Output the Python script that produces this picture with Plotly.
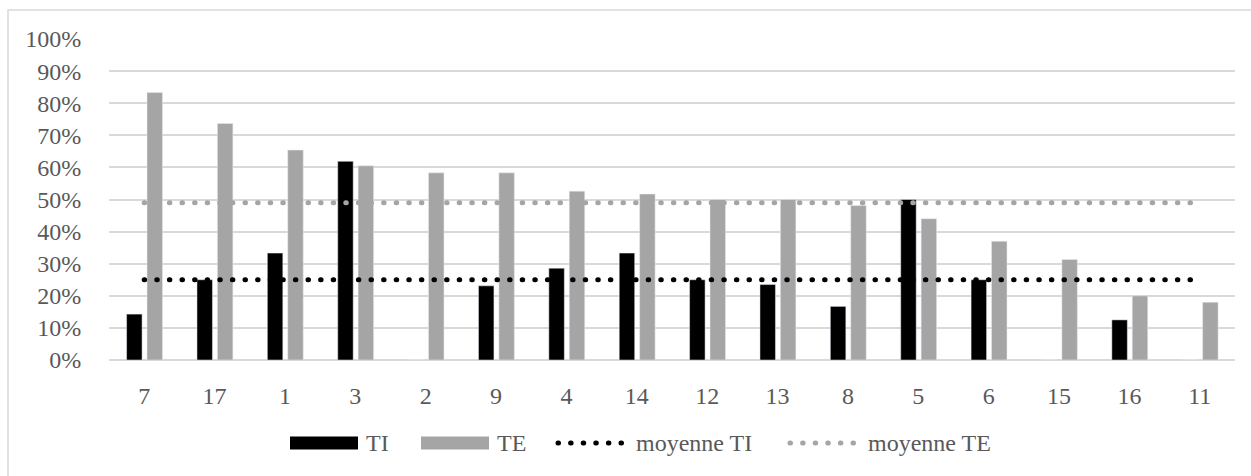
import plotly.graph_objects as go

# ---------------- data ----------------
categories = ["7", "17", "1", "3", "2", "9", "4", "14", "12", "13", "8", "5", "6", "15", "16", "11"]
ti_values = [0.143, 0.25, 0.333, 0.619, 0.0, 0.231, 0.286, 0.333, 0.25, 0.235, 0.167, 0.50, 0.25, 0.0, 0.125, 0.0]
te_values = [0.833, 0.737, 0.654, 0.605, 0.583, 0.583, 0.526, 0.517, 0.50, 0.50, 0.481, 0.44, 0.37, 0.313, 0.20, 0.18]
mean_ti = 0.25
mean_te = 0.49
y_tick_vals = [i / 10 for i in range(11)]
y_tick_text = [f"{i * 10}%" for i in range(11)]
legend_names = ["TI", "TE", "moyenne TI", "moyenne TE"]

# ---------------- style ----------------
W, H = 1251, 476
ML, MR, MT, MB = 109, 16, 39, 116
PW, PH = W - ML - MR, H - MT - MB
FONT = "Liberation Serif"
TXT = "#595959"
GRID = "#d9d9d9"
BLACK = "#000000"
GRAY = "#a5a5a5"
DOT = "0.5px,12.1px"


def px_x(px):
    return (px - ML) / PW


def px_y(py):
    return (H - MB - py) / PH


fig = go.Figure()
fig.add_trace(go.Bar(x=categories, y=ti_values, name=legend_names[0], marker_color=BLACK,
                     width=0.22, offset=-0.25, showlegend=False))
fig.add_trace(go.Bar(x=categories, y=te_values, name=legend_names[1], marker_color=GRAY,
                     width=0.22, offset=0.04, showlegend=False))
fig.add_trace(go.Scatter(x=[categories[0], categories[-1]], y=[mean_ti, mean_ti], mode="lines",
                         name=legend_names[2], line=dict(color=BLACK, width=5, dash=DOT), showlegend=False))
fig.add_trace(go.Scatter(x=[categories[0], categories[-1]], y=[mean_te, mean_te], mode="lines",
                         name=legend_names[3], line=dict(color=GRAY, width=5, dash=DOT), showlegend=False))

shapes = []
annotations = []
# outer chart border
shapes.append(dict(type="rect", xref="paper", yref="paper", x0=px_x(8), x1=px_x(1260),
                   y0=px_y(490), y1=px_y(10), line=dict(color=GRID, width=1.5), fillcolor="rgba(0,0,0,0)",
                   layer="below"))

# custom legend (Excel style)
ly = px_y(443)
shapes.append(dict(type="rect", xref="paper", yref="paper", x0=px_x(290), x1=px_x(358),
                   y0=px_y(449.5), y1=px_y(436.5), line=dict(width=0), fillcolor=BLACK))
annotations.append(dict(text=legend_names[0], x=px_x(364), y=ly, xref="paper", yref="paper",
                        xanchor="left", yanchor="middle", showarrow=False))
shapes.append(dict(type="rect", xref="paper", yref="paper", x0=px_x(421), x1=px_x(489),
                   y0=px_y(449.5), y1=px_y(436.5), line=dict(width=0), fillcolor=GRAY))
annotations.append(dict(text=legend_names[1], x=px_x(495), y=ly, xref="paper", yref="paper",
                        xanchor="left", yanchor="middle", showarrow=False))
shapes.append(dict(type="line", xref="paper", yref="paper", x0=px_x(558), x1=px_x(622),
                   y0=ly, y1=ly, line=dict(color=BLACK, width=5, dash=DOT)))
annotations.append(dict(text=legend_names[2], x=px_x(634), y=ly, xref="paper", yref="paper",
                        xanchor="left", yanchor="middle", showarrow=False))
shapes.append(dict(type="line", xref="paper", yref="paper", x0=px_x(790), x1=px_x(854),
                   y0=ly, y1=ly, line=dict(color=GRAY, width=5, dash=DOT)))
annotations.append(dict(text=legend_names[3], x=px_x(866), y=ly, xref="paper", yref="paper",
                        xanchor="left", yanchor="middle", showarrow=False))

fig.update_layout(
    width=W, height=H,
    margin=dict(l=ML, r=MR, t=MT, b=MB, pad=0),
    paper_bgcolor="white", plot_bgcolor="white",
    barmode="overlay",
    font=dict(family=FONT, size=24, color=TXT),
    showlegend=False,
    shapes=shapes,
    annotations=annotations,
    xaxis=dict(type="category", range=[-0.5, len(categories) - 0.5], showgrid=False,
               showline=False, zeroline=False, ticks="outside", ticklen=14, automargin=False,
               tickcolor="rgba(0,0,0,0)", tickfont=dict(family=FONT, size=24, color=TXT)),
    yaxis=dict(range=[0, 1.0], tickvals=y_tick_vals, ticktext=y_tick_text, showgrid=True,
               gridcolor=GRID, gridwidth=1.5, zeroline=True, zerolinecolor=GRID, zerolinewidth=1.5,
               showline=False, ticks="outside", ticklen=22, tickcolor="rgba(0,0,0,0)", automargin=False,
               tickfont=dict(family=FONT, size=24, color=TXT)),
)

post = """
document.body.style.margin = '0';
document.body.style.padding = '0';
document.documentElement.style.overflow = 'hidden';
var gd = document.getElementById('{plot_id}');
function fixCaps(){
  gd.querySelectorAll('path').forEach(function(p){
    var d = p.style.strokeDasharray;
    if (d && d !== 'none' && d !== '') { p.style.strokeLinecap = 'round'; }
  });
}
fixCaps();
if (gd.on) { gd.on('plotly_afterplot', fixCaps); }
"""

fig.write_html("out.html", post_script=post, config={"displayModeBar": False})
